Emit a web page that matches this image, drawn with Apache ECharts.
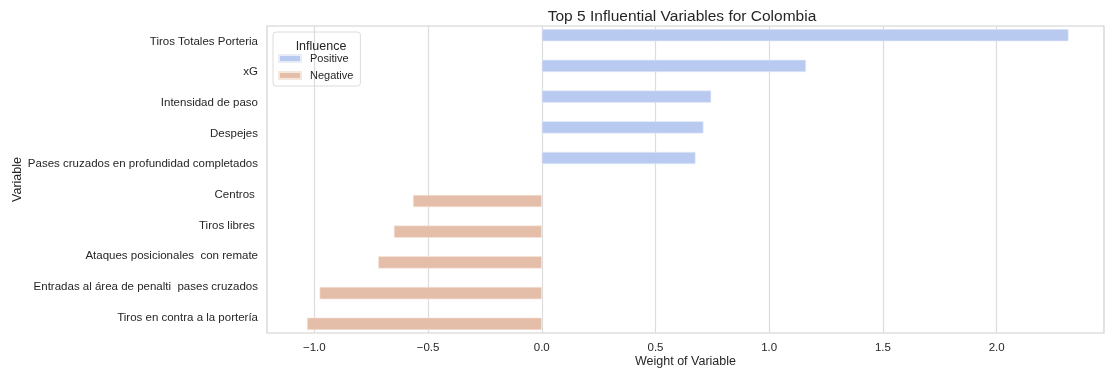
<!DOCTYPE html>
<html><head><meta charset="utf-8">
<script src="https://cdn.jsdelivr.net/npm/echarts@6/dist/echarts.min.js"></script>
<style>html,body{margin:0;padding:0;background:#fff}#c{width:1105px;height:371px}</style>
</head><body><div id="c"></div>
<script>
const categories = ["Tiros Totales Porteria","xG","Intensidad de paso","Despejes","Pases cruzados en profundidad completados","Centros ","Tiros libres ","Ataques posicionales  con remate","Entradas al área de penalti  pases cruzados","Tiros en contra a la portería"];
const positiveValues = [2.316, 1.162, 0.745, 0.711, 0.676, null, null, null, null, null];
const negativeValues = [null, null, null, null, null, -0.566, -0.650, -0.719, -0.977, -1.032];
const xTicks = [-1.0, -0.5, 0.0, 0.5, 1.0, 1.5, 2.0];

const font = "'Liberation Sans', Arial, sans-serif";
const chart = echarts.init(document.getElementById('c'));
chart.setOption({
  animation: false,
  title: [
    {text: 'Top 5 Influential Variables for Colombia', left: 677, textAlign: 'center', top: 4,
     textStyle: {fontFamily: font, fontSize: 15.5, fontWeight: 'normal', color: '#262626'}},
    {text: 'Influence', left: 316, textAlign: 'center', top: 35,
     textStyle: {fontFamily: font, fontSize: 12.5, fontWeight: 'normal', color: '#262626'}}
  ],
  legend: {
    left: 273, top: 32, orient: 'vertical', itemGap: 6,
    padding: [21, 7, 5, 5], borderColor: '#dcdcdc', borderWidth: 1, borderRadius: 3,
    itemWidth: 22, itemHeight: 7, icon: 'rect',
    textStyle: {fontFamily: font, fontSize: 11, color: '#262626', padding: [0, 0, 0, 4]},
    data: ['Positive', 'Negative']
  },
  grid: {left: 267, right: 1, top: 26, bottom: 38, show: true, borderColor: '#d0d0d0', borderWidth: 1.2,
    containLabel: false, outerBoundsMode: 'none'},
  xAxis: {
    type: 'value', min: -1.208, max: 2.472,
    name: 'Weight of Variable', nameLocation: 'middle', nameGap: 22, nameMoveOverlap: false,
    nameTextStyle: {fontFamily: font, fontSize: 12.5, color: '#262626'},
    axisLine: {show: false},
    axisTick: {show: false, customValues: xTicks},
    axisLabel: {customValues: xTicks, margin: 9, fontFamily: font, fontSize: 11.5, color: '#262626',
      formatter: v => v.toFixed(1).replace('-', '\u2212')},
    splitLine: {show: true, lineStyle: {color: '#dcdcdc', width: 1.2}}
  },
  yAxis: {
    type: 'category', data: categories, inverse: true,
    name: 'Variable', nameLocation: 'middle', nameGap: 243, nameRotate: 90, nameMoveOverlap: false,
    nameTextStyle: {fontFamily: font, fontSize: 12.5, color: '#262626'},
    axisLine: {show: false}, axisTick: {show: false},
    axisLabel: {margin: 9, fontFamily: font, fontSize: 11.5, color: '#262626'},
    splitLine: {show: false}
  },
  series: [
    {name: 'Positive', type: 'bar', data: positiveValues, barWidth: '40%', barGap: '0%',
     itemStyle: {color: '#b9caf1', borderColor: '#e8edf8', borderWidth: 0.6}},
    {name: 'Negative', type: 'bar', data: negativeValues, barWidth: '40%', barGap: '0%',
     itemStyle: {color: '#e5bea9', borderColor: '#f5e6de', borderWidth: 0.6}}
  ]
});
</script></body></html>
